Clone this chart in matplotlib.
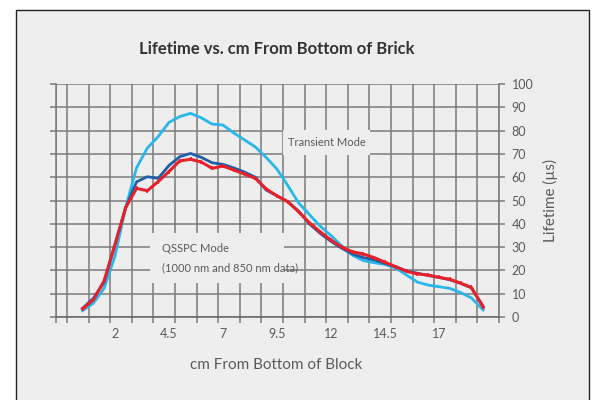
import numpy as np
import matplotlib.pyplot as plt
from matplotlib.patches import Rectangle

# cm from bottom of block
cm = [0.5, 1.0, 1.5, 2.0, 2.5, 3.0, 3.5, 4.0, 4.5, 5.0, 5.5, 6.0, 6.5, 7.0, 7.5,
      8.0, 8.5, 9.0, 9.5, 10.0, 10.5, 11.0, 11.5, 12.0, 12.5, 13.0, 13.5, 14.0,
      14.5, 15.0, 15.5, 16.0, 16.5, 17.0, 17.5, 18.0, 18.5, 19.05]

# lifetime (us)
transient = [2.7, 5.9, 12.3, 26, 47, 64, 72.5, 77.4, 83.5, 86, 87.4, 85.5, 82.8,
             82.4, 79, 76, 73, 68.5, 63.5, 56.5, 49, 44, 39, 35, 30.5, 26.5, 24.2,
             23.3, 22.6, 21, 18, 15, 13.7, 13, 12.3, 10.5, 8.2, 3.0]
qsspc_1000 = [3.7, 8.0, 15, 31, 47, 58, 60.2, 59.5, 65, 68.8, 70.2, 68.5, 66.2,
              65.5, 64, 62.2, 60, 54.5, 52, 49.5, 45.5, 40, 35.9, 32.5, 29.5, 27,
              25.5, 24.5, 23, 21.5, 19.8, 18.8, 17.8, 17, 16, 14.5, 12.5, 4.5]
qsspc_850 = [3.5, 7.3, 15.5, 31, 47, 55.2, 54.2, 58.1, 62.4, 67, 67.7, 66.5, 63.8,
             64.8, 63.1, 61.3, 59.5, 55, 52, 49.5, 45.2, 40.5, 36.6, 33, 30, 28,
             27, 25.5, 23.5, 21.6, 19.6, 18.5, 18, 17, 16.2, 14.5, 12.7, 4.2]

xticks = [2, 4.5, 7, 9.5, 12, 14.5, 17]
xtick_labels = ['2', '4.5', '7', '9.5', '12', '14.5', '17']
yticks = list(range(0, 101, 10))

bg = '#eeeeee'
grid_c = '#7b7b7b'
text_c = '#5a5a5a'
font = ['Lato', 'DejaVu Sans']

fig = plt.figure(figsize=(5.94, 4.0), dpi=100)
fig.patch.set_facecolor('white')
fig.patches.append(Rectangle((16 / 594, -0.05), (589 - 16) / 594, 1.05 - 10 / 400,
                             transform=fig.transFigure, facecolor=bg,
                             edgecolor='#222222', linewidth=1.0, zorder=-5))

ax = fig.add_axes([55.5 / 594, 1 - 317 / 400, (499 - 55.5) / 594, (317 - 84) / 400])
ax.set_zorder(2)
ax.set_facecolor(bg)

ax.plot(cm, transient, color='#27b7ea', lw=2.0, zorder=4)
ax.plot(cm, qsspc_1000, color='#1f5ea8', lw=2.0, zorder=5)
ax.plot(cm, qsspc_850, color='#e8202a', lw=2.2, zorder=6,
        marker='|', markersize=3, markeredgewidth=1.2)

ax.set_xlim(-0.75, 19.78)
ax.set_ylim(0, 100)

ax.set_xticks(xticks)
ax.set_xticklabels(xtick_labels)
ax.set_xticks(list(np.arange(-0.22, 19.8, 1.0)) + [-0.75], minor=True)
ax.set_yticks(yticks)

ax.tick_params(axis='x', which='major', length=0, pad=8, labelsize=9,
               labelcolor=text_c)
ax.tick_params(axis='x', which='minor', length=4, width=1.1, color=grid_c,
               direction='out')
ax.tick_params(axis='y', which='major', left=True, right=True, labelleft=False,
               labelright=True, length=4, width=1.1, color=grid_c, pad=5,
               labelsize=9, labelcolor=text_c)
for lab in ax.get_xticklabels() + ax.get_yticklabels():
    lab.set_family(font)

ax.grid(which='minor', axis='x', color=grid_c, lw=1.1)
ax.grid(which='major', axis='y', color=grid_c, lw=1.1)
ax.set_axisbelow(True)
for side in ['left', 'right', 'bottom']:
    ax.spines[side].set_color(grid_c)
    ax.spines[side].set_linewidth(1.1)
ax.spines['bottom'].set_color('#666666')
ax.spines['top'].set_visible(False)

# label boxes hide the grid behind them
ax.add_patch(Rectangle((9.78, 69.7), 4.02, 10.6, facecolor=bg, edgecolor='none', zorder=2))
ax.add_patch(Rectangle((3.62, 14.6), 6.23, 21.4, facecolor=bg, edgecolor='none', zorder=2))
ax.text(11.79, 75, 'Transient Mode', ha='center', va='center', fontsize=8,
        color=text_c, family=font, zorder=3)
ax.text(4.16, 29.5, 'QSSPC Mode', ha='left', va='center', fontsize=8,
        color=text_c, family=font, zorder=3)
ax.text(4.16, 21.3, '(1000 nm and 850 nm data)', ha='left', va='center',
        fontsize=8, color=text_c, family=font, zorder=3)

fig.text(277 / 594, 1 - 49 / 400, 'Lifetime vs. cm From Bottom of Brick',
         ha='center', va='center', fontsize=12, fontweight='bold',
         color='#333333', family=font)
fig.text(276 / 594, 1 - 365 / 400, 'cm From Bottom of Block', ha='center',
         va='center', fontsize=11, color=text_c, family=font)
fig.text(550 / 594, 0.5, 'Lifetime (µs)', ha='center', va='center', rotation=90,
         fontsize=11, color=text_c, family=font)

fig.savefig('out.png', dpi=100, facecolor=fig.get_facecolor())
